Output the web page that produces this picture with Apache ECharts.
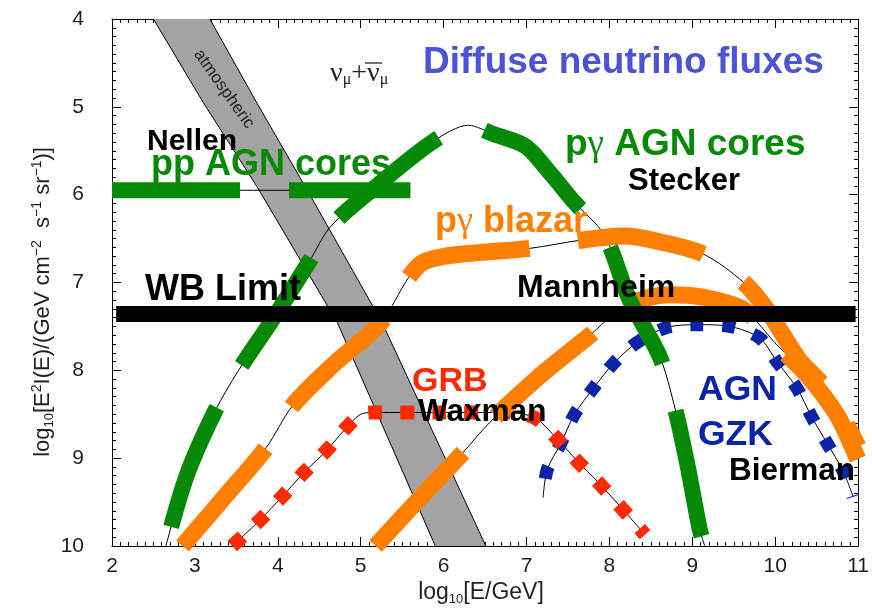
<!DOCTYPE html>
<html>
<head>
<meta charset="utf-8">
<script src="https://cdn.jsdelivr.net/npm/echarts@6/dist/echarts.min.js"></script>
<style>
  html, body { margin: 0; padding: 0; background: #fff; }
  #chart { width: 872px; height: 609px; }
</style>
</head>
<body>
<div id="chart"></div>
<script>
// x: log10(E/GeV); y: log10 of E^2 I(E) exponent, drawn downward (4 at top, 10 at bottom)

// atmospheric neutrino band: low-energy and high-energy edges
const atmosphericLow  = [[2.50,4.0],[3.10,4.95],[3.75,5.91],[4.72,7.46],[5.90,10.0]];
const atmosphericHigh = [[3.18,4.0],[3.75,4.96],[4.35,5.94],[5.26,7.46],[6.51,10.0]];

// pp AGN cores (Nellen)
const nellenPP = [[2.0,5.95],[5.6,5.95]];

// p-gamma AGN cores (Stecker)
const steckerPG = [[2.65,10.0],[2.90,9.20],[3.24,8.47],[3.52,8.01],[3.96,7.39],[4.38,6.76],[4.64,6.36],
  [5.22,5.88],[5.88,5.39],[6.30,5.21],[6.60,5.31],[6.99,5.45],[7.29,5.76],[7.58,6.09],[7.94,6.46],
  [8.24,7.19],[8.61,7.85],[8.78,8.39],[8.94,9.07],[9.09,9.81],[9.15,10.0]];

// p-gamma blazar (Mannheim), two model curves
const mannheimA = [[2.85,10.0],[3.36,9.44],[3.86,8.88],[4.18,8.40],[4.70,7.91],[5.24,7.46],[5.58,6.94],
  [5.75,6.77],[6.02,6.70],[6.42,6.66],[7.05,6.61],[7.64,6.52],[8.18,6.47],[8.58,6.53],[9.14,6.68],
  [9.62,7.00],[9.90,7.31],[10.29,7.88],[10.62,8.22],[11.0,8.87]];
const mannheimB = [[5.18,10.0],[5.70,9.47],[6.21,8.96],[6.57,8.58],[7.14,8.08],[7.74,7.62],[8.19,7.27],
  [8.73,7.14],[9.14,7.17],[9.62,7.31],[10.02,7.71],[10.38,8.05],[10.74,8.50],[11.0,9.02]];

// GRB (Waxman)
const waxmanGRB = [[3.45,10.0],[3.79,9.70],[4.05,9.44],[4.32,9.16],[4.58,8.92],[4.83,8.65],[5.00,8.50],
  [5.16,8.48],[5.94,8.48],[6.78,8.48],[7.10,8.54],[7.34,8.75],[7.60,9.02],[7.87,9.28],[8.13,9.55],[8.43,9.87]];

// AGN GZK (Biermann)
const biermannGZK = [[7.20,9.45],[7.25,9.13],[7.41,8.84],[7.58,8.50],[7.81,8.20],[8.06,7.91],[8.34,7.68],
  [8.70,7.51],[9.08,7.48],[9.45,7.50],[9.81,7.63],[10.02,7.90],[10.26,8.20],[10.44,8.53],[10.62,8.82],
  [10.82,9.15],[10.94,9.44]];

// Waxman-Bahcall limit
const wbLimit = [[2.05,7.36],[10.97,7.36]];

const SANS = '"Liberation Sans", Arial, Helvetica, sans-serif';
const SERIF = '"Liberation Serif", "Times New Roman", serif';
const GREEN = '#068a06', ORANGE = '#ff8000', RED = '#ff2a00', BLUE = '#0a24a8';
const LONG_DASH = [128, 49];

function thinCurve(data) {
  return { type: 'line', data, showSymbol: false, symbol: 'none', smooth: 0.3, silent: true, z: 2,
    lineStyle: { color: '#000', width: 1 } };
}
function thickCurve(data, color, width, dash, offset, z) {
  return { type: 'line', data, showSymbol: false, symbol: 'none', smooth: 0.3, silent: true, z, clip: false,
    lineStyle: { color, width, type: dash, dashOffset: offset, cap: 'butt', join: 'round' } };
}
function tag(text, x, y, size, color, extra) {
  return Object.assign({ type: 'text', x, y, z: 100, silent: true,
    style: { text, fill: color, font: 'bold ' + size + 'px ' + SANS, align: 'left', verticalAlign: 'middle' } }, extra || {});
}
function pgTag(rest, x, y, size, color) {
  return { type: 'text', x, y, z: 100, silent: true,
    style: { text: '{p|p}{g|γ}{p|' + rest + '}', align: 'left', verticalAlign: 'middle',
      rich: {
        p: { fontSize: size, fontWeight: 'bold', fontFamily: SANS, fill: color },
        g: { fontSize: size, fontWeight: 'normal', fontFamily: SERIF, fill: color }
      } } };
}

const axisCommon = {
  type: 'value',
  axisLine: { onZero: false, lineStyle: { color: '#000', width: 1 } },
  axisTick: { inside: true, length: 9, lineStyle: { color: '#000', width: 1 } },
  minorTick: { show: true, splitNumber: 10, length: 4, lineStyle: { color: '#000', width: 1 } },
  splitLine: { show: false }
};
const tickFont = { fontSize: 21, color: '#1e1e1e', fontFamily: SANS };

const chart = echarts.init(document.getElementById('chart'), null, { renderer: 'canvas' });
chart.setOption({
  animation: false,
  backgroundColor: '#fff',
  grid: { left: 112, right: 10, top: 19, bottom: 63 },
  xAxis: [
    Object.assign({}, axisCommon, { min: 2, max: 11, interval: 1, position: 'bottom',
      axisLabel: Object.assign({ margin: 10 }, tickFont) }),
    Object.assign({}, axisCommon, { min: 2, max: 11, interval: 1, position: 'top', axisLabel: { show: false } })
  ],
  yAxis: [
    Object.assign({}, axisCommon, { min: 4, max: 10, interval: 1, inverse: true, position: 'left',
      axisLabel: Object.assign({ margin: 28 }, tickFont) }),
    Object.assign({}, axisCommon, { min: 4, max: 10, interval: 1, inverse: true, position: 'right', axisLabel: { show: false } })
  ],
  series: [
    {
      type: 'custom', coordinateSystem: 'cartesian2d', clip: true, silent: true, z: 1,
      data: [[5, 7]],
      renderItem: function (params, api) {
        const lo = atmosphericLow.map(p => api.coord(p));
        const hi = atmosphericHigh.map(p => api.coord(p));
        return { type: 'group', children: [
          { type: 'polygon', shape: { points: lo.concat(hi.slice().reverse()) },
            style: { fill: '#a3a3a3', stroke: null } },
          { type: 'polyline', shape: { points: lo }, style: { stroke: '#000', lineWidth: 1, fill: null } },
          { type: 'polyline', shape: { points: hi }, style: { stroke: '#000', lineWidth: 1, fill: null } }
        ] };
      }
    },
    thinCurve(nellenPP),
    thinCurve(steckerPG),
    thinCurve(mannheimA),
    thinCurve(mannheimB),
    thinCurve(waxmanGRB),
    thinCurve(biermannGZK),
    thickCurve(biermannGZK, BLUE, 13, [13, 19], 13, 3),
    thickCurve(waxmanGRB, RED, 14, [14, 18], 0, 4),
    thickCurve(mannheimA, ORANGE, 17, LONG_DASH, 0, 5),
    thickCurve(mannheimB, ORANGE, 17, LONG_DASH, 0, 5),
    thickCurve(nellenPP, GREEN, 16, LONG_DASH, 0, 6),
    thickCurve(steckerPG, GREEN, 16, LONG_DASH, 157, 6),
    { type: 'line', data: wbLimit, showSymbol: false, symbol: 'none', silent: true, z: 7,
      lineStyle: { color: '#000', width: 16, cap: 'butt' } }
  ],
  graphic: [
    tag('Diffuse neutrino fluxes', 423, 63, 37, '#4b53d6'),
    tag('Nellen', 147, 142, 30, '#000'),
    tag('pp AGN cores', 151, 165, 36, GREEN),
    pgTag(' AGN cores', 565, 145, 37, GREEN),
    tag('Stecker', 628, 181, 31, '#000'),
    pgTag(' blazar', 435, 222, 36, ORANGE),
    tag('WB Limit', 145, 290, 36, '#000'),
    tag('Mannheim', 517, 288, 32, '#000'),
    tag('GRB', 412, 382, 34, RED),
    tag('Waxman', 418, 412, 31.5, '#000'),
    tag('AGN', 698, 390, 35.5, BLUE),
    tag('GZK', 698, 435, 35.5, BLUE),
    tag('Bierman', 729, 471, 31.5, '#000'),
    { type: 'text', x: 224, y: 89, rotation: -0.955, z: 100, silent: true,
      style: { text: 'atmospheric', fill: '#222', font: '17px ' + SANS, align: 'center', verticalAlign: 'middle' } },
    { type: 'text', x: 330, y: 74, z: 100, silent: true,
      style: { text: '{v|ν}{s|μ}{v|+ν}{s|μ}', align: 'left', verticalAlign: 'middle',
        rich: {
          v: { fontSize: 28, fontFamily: SERIF, fill: '#222', verticalAlign: 'top' },
          s: { fontSize: 16, fontFamily: SERIF, fill: '#222', verticalAlign: 'bottom', padding: [10, 0, 0, 0] }
        } } },
    { type: 'line', z: 100, silent: true, shape: { x1: 365, y1: 63, x2: 382, y2: 63 },
      style: { stroke: '#222', lineWidth: 1.3 } },
    // axis titles
    { type: 'text', x: 43, y: 302, rotation: Math.PI / 2, z: 100, silent: true,
      style: { text: '{n|log}{b|10}{n|[E}{t|2}{n|I(E)/(GeV cm}{t|−2}{n|  s}{t|−1}{n| sr}{t|−1}{n|)]}',
        align: 'center', verticalAlign: 'middle',
        rich: {
          n: { fontSize: 22, fontFamily: SANS, fill: '#222', lineHeight: 26 },
          b: { fontSize: 13, fontFamily: SANS, fill: '#222', verticalAlign: 'bottom', lineHeight: 26 },
          t: { fontSize: 14, fontFamily: SANS, fill: '#222', verticalAlign: 'top', lineHeight: 20 }
        } } },
    { type: 'text', x: 481, y: 593, z: 100, silent: true,
      style: { text: '{n|log}{b|10}{n|[E/GeV]}', align: 'center', verticalAlign: 'middle',
        rich: {
          n: { fontSize: 23, fontFamily: SANS, fill: '#222', lineHeight: 26 },
          b: { fontSize: 13, fontFamily: SANS, fill: '#222', verticalAlign: 'bottom', lineHeight: 26 }
        } } }
  ]
});
</script>
</body>
</html>
